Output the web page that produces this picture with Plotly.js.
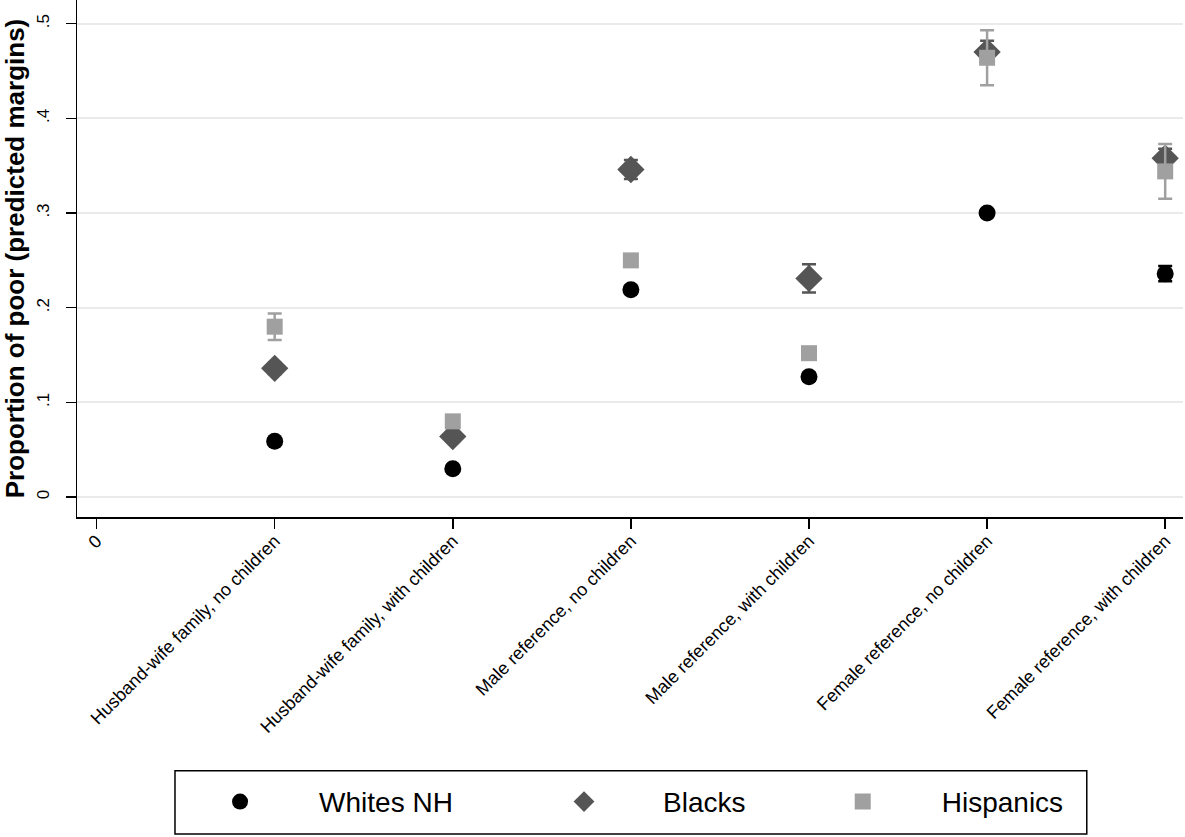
<!DOCTYPE html>
<html>
<head>
<meta charset="utf-8">
<script src="https://cdn.plot.ly/plotly-3.0.1.min.js"></script>
<style>html,body{margin:0;padding:0;background:#fff;}#chart{width:1185px;height:837px;}</style>
</head>
<body>
<div id="chart"></div>
<script>
var xPositions = [1, 2, 3, 4, 5, 6];
var categories = ["Husband-wife family, no children", "Husband-wife family, with children", "Male reference, no children", "Male reference, with children", "Female reference, no children", "Female reference, with children"];
var tickValues = [0, 1, 2, 3, 4, 5, 6];
var tickLabels = ["0"].concat(categories);

var whitesValues = [0.059, 0.030, 0.219, 0.127, 0.300, 0.236];
var whitesErr = [0.003, 0.002, 0.004, 0.004, 0.004, 0.008];
var blacksValues = [0.136, 0.064, 0.346, 0.231, 0.470, 0.358];
var blacksErr = [0.006, 0.004, 0.010, 0.015, 0.012, 0.010];
var hispValues = [0.180, 0.080, 0.250, 0.152, 0.464, 0.344];
var hispErr = [0.014, 0.004, 0.006, 0.005, 0.029, 0.029];

var seriesNames = ["Whites NH", "Blacks", "Hispanics"];
var fontFam = "Liberation Sans, Arial, sans-serif";

function mk(name, vals, errs, color, symbol, size, legendId) {
  return {
    type: "scatter", mode: "markers", name: name,
    x: xPositions, y: vals,
    legend: legendId,
    marker: {color: color, symbol: symbol, size: size, line: {width: 0}},
    error_y: {type: "data", array: errs, visible: true, color: color, thickness: 2.5, width: 7}
  };
}

var data = [
  mk(seriesNames[0], whitesValues, whitesErr, "#000000", "circle", 17, "legend"),
  mk(seriesNames[1], blacksValues, blacksErr, "#555555", "diamond", 21, "legend2"),
  mk(seriesNames[2], hispValues, hispErr, "#a0a0a0", "square", 16, "legend3")
];

function legendAt(xp) {
  return {
    orientation: "h",
    x: xp, xanchor: "left",
    y: -0.551, yanchor: "middle",
    borderwidth: 0,
    bgcolor: "rgba(0,0,0,0)",
    font: {size: 28, family: fontFam},
    itemwidth: 148,
    itemclick: false
  };
}

var layout = {
  width: 1185, height: 837,
  margin: {l: 77, r: 2, t: 0, b: 320},
  paper_bgcolor: "#ffffff", plot_bgcolor: "#ffffff",
  font: {family: fontFam, color: "#000000"},
  showlegend: true,
  xaxis: {
    range: [-0.11, 6.1],
    tickmode: "array", tickvals: tickValues, ticktext: tickLabels,
    tickangle: -45, tickfont: {size: 18, family: fontFam},
    ticks: "outside", ticklen: 10, tickcolor: "#000", tickwidth: 1.5,
    ticklabelstandoff: -5,
    showgrid: false, zeroline: false,
    showline: true, linecolor: "#000", linewidth: 1.5
  },
  yaxis: {
    range: [-0.021, 0.525],
    tickmode: "array", tickvals: [0, 0.1, 0.2, 0.3, 0.4, 0.5],
    ticktext: ["0", ".1", ".2", ".3", ".4", ".5"],
    tickangle: -90, tickfont: {size: 17, family: fontFam},
    ticks: "outside", ticklen: 10, tickcolor: "#000", tickwidth: 1.5,
    ticklabelstandoff: 10,
    showgrid: true, gridcolor: "#eaeaea", gridwidth: 2,
    zeroline: false,
    showline: true, linecolor: "#000", linewidth: 1.5,
    title: {text: "<b>Proportion of poor (predicted margins)</b>", font: {size: 26, family: fontFam}, standoff: 3}
  },
  legend: legendAt(0.076),
  legend2: legendAt(0.387),
  legend3: legendAt(0.639),
  shapes: [{
    type: "rect", xref: "paper", yref: "paper",
    x0: 0.0886, x1: 0.913, y0: -0.613, y1: -0.491,
    line: {color: "#000", width: 1.5}, fillcolor: "rgba(0,0,0,0)"
  }]
};

Plotly.newPlot("chart", data, layout, {displayModeBar: false, staticPlot: true});
</script>
</body>
</html>
